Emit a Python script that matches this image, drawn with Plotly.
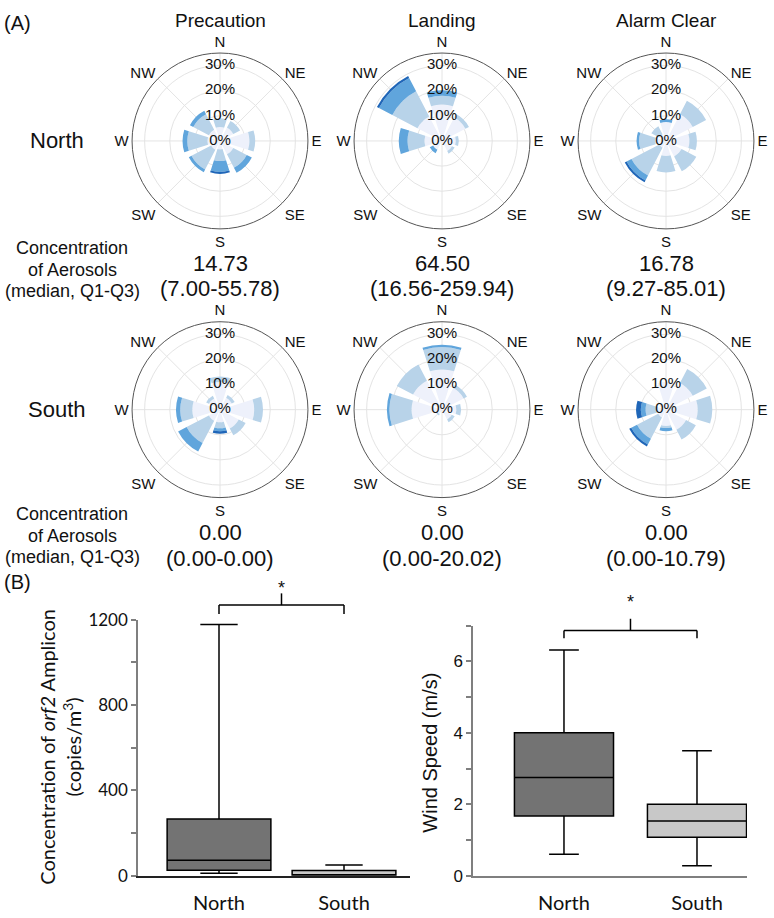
import plotly.graph_objects as go

W, H = 774, 918

# ---------------- DATA ----------------
directions = ['N', 'NE', 'E', 'SE', 'S', 'SW', 'W', 'NW']
dir_angles = [0, 45, 90, 135, 180, 225, 270, 315]
radial_ticks = [0, 10, 20, 30]
radial_tick_text = ['0%', '10%', '20%', '30%']
bin_colors = ['#eef1fb', '#b8d3e9', '#60a5dc', '#1f66b8']

# frequency (%) per speed bin (lightest -> darkest), directions N..NW
precaution_north = [
    [5.5, 6.0, 11.7, 6.0, 3.4, 4.0, 5.0, 5.0],
    [3.5, 3.0, 2.3, 6.0, 4.6, 8.8, 8.0, 7.0],
    [0.0, 0.0, 0.0, 2.3, 4.3, 1.2, 1.9, 1.5],
    [0.0, 0.0, 0.0, 0.0, 0.8, 0.0, 0.0, 0.0],
]
landing_north = [
    [14.5, 10.5, 5.5, 4.5, 0.5, 4.0, 7.0, 11.0],
    [3.5, 1.6, 1.2, 1.2, 0.0, 0.0, 6.7, 11.3],
    [2.2, 0.0, 0.0, 0.0, 0.0, 1.5, 3.5, 6.0],
    [0.0, 0.0, 0.0, 0.0, 0.0, 0.0, 0.0, 0.9],
]
alarm_north = [
    [7.5, 12.0, 9.3, 7.0, 6.0, 3.0, 4.3, 3.0],
    [0.0, 6.0, 3.0, 6.6, 6.5, 12.5, 6.4, 3.6],
    [1.1, 0.0, 0.0, 0.0, 0.0, 2.2, 1.0, 0.0],
    [0.0, 0.0, 0.0, 0.0, 0.0, 0.8, 0.0, 0.0],
]
precaution_south = [
    [11.0, 5.3, 13.6, 8.4, 5.0, 5.0, 11.0, 5.0],
    [2.2, 1.3, 3.5, 3.1, 2.4, 10.0, 4.8, 1.2],
    [0.0, 0.0, 0.0, 0.0, 1.2, 3.8, 1.7, 0.0],
    [0.0, 0.0, 0.0, 0.0, 1.0, 0.0, 0.0, 0.0],
]
landing_south = [
    [16.0, 9.7, 5.7, 4.4, 0.0, 2.0, 12.1, 13.0],
    [8.9, 1.5, 1.9, 1.3, 0.0, 0.6, 8.8, 7.3],
    [0.9, 0.0, 0.0, 0.0, 0.0, 0.0, 1.0, 0.0],
    [0.0, 0.0, 0.0, 0.0, 0.0, 0.0, 0.0, 0.0],
]
alarm_south = [
    [11.0, 12.0, 12.6, 9.0, 6.5, 3.5, 3.6, 3.0],
    [0.0, 6.3, 5.8, 4.4, 0.8, 9.5, 4.5, 0.0],
    [0.0, 0.0, 0.0, 0.0, 1.3, 2.6, 1.9, 0.0],
    [0.0, 0.0, 0.0, 0.0, 0.0, 0.9, 1.9, 0.0],
]
roses = [precaution_north, landing_north, alarm_north,
         precaution_south, landing_south, alarm_south]

phases = ['Precaution', 'Landing', 'Alarm Clear']
sites = ['North', 'South']
medians = [['14.73', '64.50', '16.78'], ['0.00', '0.00', '0.00']]
iqr_text = [['(7.00-55.78)', '(16.56-259.94)', '(9.27-85.01)'],
            ['(0.00-0.00)', '(0.00-20.02)', '(0.00-10.79)']]

box_groups = ['North', 'South']
conc_lowerfence = [12, 0]
conc_q1 = [26, 0]
conc_median = [73, 3]
conc_q3 = [266, 25]
conc_upperfence = [1178, 50]

wind_lowerfence = [0.6, 0.28]
wind_q1 = [1.67, 1.08]
wind_median = [2.75, 1.53]
wind_q3 = [4.0, 2.0]
wind_upperfence = [6.32, 3.5]
box_fill = ['#737373', '#c8c8c8']

# ---------------- FIGURE ----------------
fig = go.Figure()

def P(x, y):
    return x / W, 1 - y / H

rose_centers = [(220, 133), (442, 133), (666, 133), (220, 408), (442, 408), (666, 408)]
R = 90
ARIAL = 'Liberation Sans, Arial, sans-serif'
CAL = 'Lato, Carlito, Calibri, sans-serif'

layout_polars = {}
for i, (rose, (cx, cy)) in enumerate(zip(roses, rose_centers)):
    name = 'polar' if i == 0 else f'polar{i+1}'
    for b, vals in enumerate(rose):
        fig.add_trace(go.Barpolar(r=vals, theta=dir_angles, width=[35] * 8,
                                  marker=dict(color=bin_colors[b], line=dict(width=0)),
                                  subplot=name, showlegend=False, hoverinfo='skip'))
    fig.add_trace(go.Scatterpolar(r=radial_ticks, theta=[0] * 4, mode='text',
                                  text=radial_tick_text,
                                  textfont=dict(family=ARIAL, size=15, color='#111'),
                                  subplot=name, showlegend=False, hoverinfo='skip',
                                  cliponaxis=False))
    x0, y1 = P(cx - R, cy - R)
    x1, y0 = P(cx + R, cy + R)
    layout_polars[name] = dict(
        domain=dict(x=[x0, x1], y=[y0, y1]),
        bgcolor='white',
        barmode='stack', bargap=0,
        angularaxis=dict(rotation=90, direction='clockwise', tickmode='array',
                         tickvals=dir_angles, ticktext=directions,
                         showline=True, linecolor='#555', linewidth=1,
                         showgrid=True, gridcolor='#e4e4e4', gridwidth=1,
                         ticks='', ticklen=0,
                         tickfont=dict(family=ARIAL, size=15, color='#111'),
                         layer='below traces'),
        radialaxis=dict(range=[0, 35], tickvals=[10, 20, 30], showticklabels=False,
                        ticks='', showline=False, showgrid=True,
                        gridcolor='#e4e4e4', gridwidth=1, layer='below traces'),
    )

# ---- box plots ----
for k, g in enumerate(box_groups):
    fig.add_trace(go.Box(x=[g], q1=[conc_q1[k]], median=[conc_median[k]], q3=[conc_q3[k]],
                         lowerfence=[conc_lowerfence[k]], upperfence=[conc_upperfence[k]],
                         fillcolor=box_fill[k], line=dict(color='black', width=1.5),
                         width=0.83, whiskerwidth=0.36, boxpoints=False,
                         xaxis='x', yaxis='y', showlegend=False, hoverinfo='skip'))
    fig.add_trace(go.Box(x=[g], q1=[wind_q1[k]], median=[wind_median[k]], q3=[wind_q3[k]],
                         lowerfence=[wind_lowerfence[k]], upperfence=[wind_upperfence[k]],
                         fillcolor=box_fill[k], line=dict(color='black', width=1.5),
                         width=0.745, whiskerwidth=0.3, boxpoints=False,
                         xaxis='x2', yaxis='y2', showlegend=False, hoverinfo='skip'))

ax_gray = '#7f7f7f'
fig.update_layout(
    width=W, height=H, margin=dict(l=0, r=0, t=0, b=0),
    paper_bgcolor='white', plot_bgcolor='white',
    boxmode='overlay',
    **layout_polars,
    xaxis=dict(domain=[138 / W, 410 / W], range=[-0.648, 1.528], type='category',
               categoryorder='array', categoryarray=box_groups,
               showline=True, linecolor='#222', linewidth=1.5, ticks='',
               ticklabelstandoff=8,
               tickfont=dict(family=CAL, size=20, color='#111'), anchor='y',
               showgrid=False, zeroline=False),
    yaxis=dict(domain=[1 - 885 / H, 1 - 623 / H], range=[0, 1200], anchor='x',
               tickvals=[0, 400, 800, 1200], ticks='outside', ticklen=5,
               tickcolor=ax_gray, tickwidth=1.5,
               minor=dict(tickvals=[200, 600, 1000], ticks='outside', ticklen=5,
                          tickcolor=ax_gray, tickwidth=1.5, showgrid=False),
               showline=True, linecolor=ax_gray, linewidth=1.5, showgrid=False,
               zeroline=False, tickfont=dict(family=CAL, size=17, color='#111')),
    xaxis2=dict(domain=[473 / W, 747 / W], range=[-0.684, 1.376], type='category',
                categoryorder='array', categoryarray=box_groups,
                showline=True, linecolor=ax_gray, linewidth=1.5, ticks='',
                ticklabelstandoff=8,
                tickfont=dict(family=CAL, size=20, color='#111'), anchor='y2',
                showgrid=False, zeroline=False),
    yaxis2=dict(domain=[1 - 885 / H, 1 - 629 / H], range=[0, 7], anchor='x2',
                tickvals=[0, 2, 4, 6], ticks='outside', ticklen=5,
                tickcolor=ax_gray, tickwidth=1.5,
                minor=dict(tickvals=[1, 3, 5, 7], ticks='outside', ticklen=5,
                           tickcolor=ax_gray, tickwidth=1.5, showgrid=False),
                showline=True, linecolor=ax_gray, linewidth=1.5, showgrid=False,
                zeroline=False, tickfont=dict(family=ARIAL, size=17, color='#111')),
)

ann = []
def text(x, y, s, size, family=ARIAL, **kw):
    px_, py_ = P(x, y)
    d = dict(x=px_, y=py_, xref='paper', yref='paper', text=s, showarrow=False,
             xanchor='center', yanchor='middle',
             font=dict(family=family, size=size, color='#111'))
    d.update(kw)
    ann.append(d)

text(2, 12, '(A)', 20, xanchor='left')
text(2, 584, '(B)', 20, xanchor='left')
for j, ph in enumerate(phases):
    text(rose_centers[j][0], 10, ph, 19)
for r, site in enumerate(sites):
    cy = rose_centers[3 * r][1]
    text(57, cy, site, 22)
    base = 243 if r == 0 else 515
    for li, line in enumerate(['Concentration', 'of Aerosols', '(median, Q1-Q3)']):
        text(72, base + 22 * li, line, 18)
    vy = 258 if r == 0 else 534
    for j in range(3):
        cx = rose_centers[j][0]
        text(cx, vy, medians[r][j], 22)
        text(cx, vy + 26, iqr_text[r][j], 22)

text(60, 753, 'Concentration of <i>orf2</i> Amplicon<br>(copies/m<sup>3</sup>)', 20,
     family=CAL, textangle=-90)
text(430, 759, 'Wind Speed (m/s)', 20, textangle=-90)

# significance brackets
shapes = []
def bracket(xref, ytop, ylow, ypeak):
    yt = 1 - ytop / H
    yl = 1 - ylow / H
    yp = 1 - ypeak / H
    ln = dict(color='black', width=1.5)
    for (xa, xb, ya, yb) in [(0, 0, yl, yt), (0, 1, yt, yt), (1, 1, yt, yl), (0.5, 0.5, yt, yp)]:
        shapes.append(dict(type='line', xref=xref, yref='paper', x0=xa, x1=xb,
                           y0=ya, y1=yb, line=ln))

bracket('x', 608, 617, 596)
bracket('x2', 634, 642, 622)
ann.append(dict(x=0.5, y=1 - 591 / H, xref='x', yref='paper', text='*', showarrow=False,
                font=dict(family=ARIAL, size=18, color='#111')))
ann.append(dict(x=0.5, y=1 - 617 / H, xref='x2', yref='paper', text='*', showarrow=False,
                font=dict(family=ARIAL, size=18, color='#111')))

fig.update_layout(annotations=ann, shapes=shapes)
fig.write_html('out.html', config={'displayModeBar': False},
               post_script="document.body.style.margin='0px';document.body.style.overflow='hidden';")
